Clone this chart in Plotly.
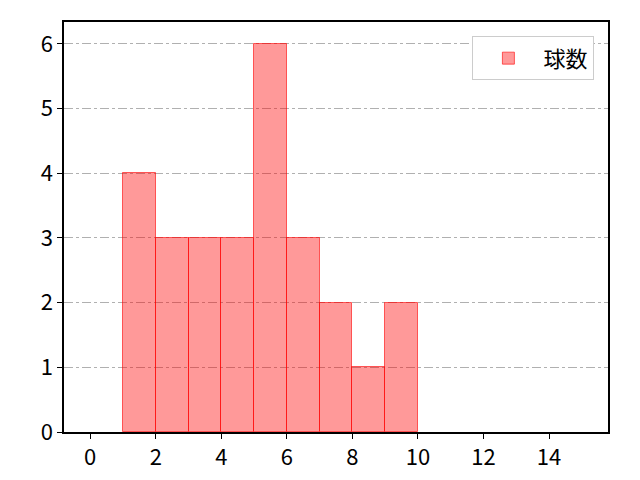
import plotly.graph_objects as go

# histogram of pitch counts
bin_left = [1, 2, 3, 4, 5, 6, 7, 8, 9]
counts = [4, 3, 3, 3, 6, 3, 2, 1, 2]
x_ticks = [0, 2, 4, 6, 8, 10, 12, 14]
y_ticks = [0, 1, 2, 3, 4, 5, 6]

centers = [b + 0.5 for b in bin_left]

fig = go.Figure()
fig.add_trace(go.Bar(
    x=centers, y=counts, width=1, name="球数",
    marker=dict(color="rgba(255,0,0,0.4)",
                line=dict(color="rgba(255,0,0,0.6)", width=1)),
))

axis_common = dict(showline=True, linecolor="black", linewidth=1.5, mirror=True,
                   ticks="outside", ticklen=5, tickwidth=1.2, tickcolor="black",
                   zeroline=False, tickfont=dict(size=22))

# page has an 8px body offset, so margins are shifted to compensate
fig.update_layout(
    width=640, height=480,
    margin=dict(l=56, r=40, t=14, b=56),
    plot_bgcolor="white", paper_bgcolor="white",
    font=dict(family="Noto Sans CJK JP, Noto Sans", size=22, color="black"),
    showlegend=True,
    legend=dict(x=0.975, y=0.965, xanchor="right", yanchor="top",
                bordercolor="#cccccc", borderwidth=1, bgcolor="white",
                font=dict(size=22), itemwidth=60, entrywidth=110),
    bargap=0,
)
fig.update_xaxes(range=[-0.8, 15.8], tickvals=x_ticks, showgrid=False, **axis_common)
fig.update_yaxes(range=[0, 6.34], tickvals=y_ticks, showgrid=True,
                 gridcolor="#b0b0b0", griddash="dashdot", gridwidth=1, **axis_common)

fig.write_html("out.html")
